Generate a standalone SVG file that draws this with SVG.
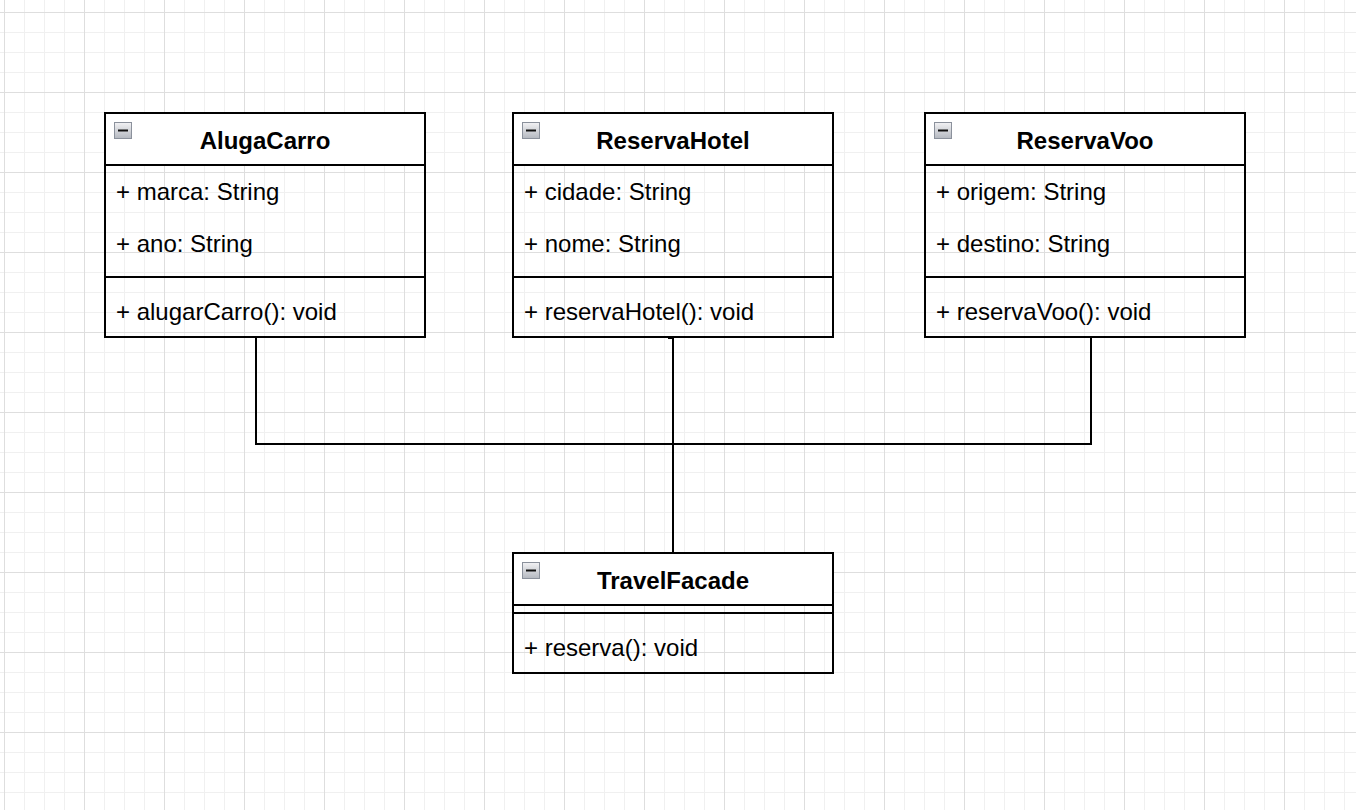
<svg xmlns="http://www.w3.org/2000/svg" width="1356" height="810" viewBox="0 0 1356 810">
  <style>
    .box { fill: none; stroke: #000; stroke-width: 2; }
    .hdr { fill: #fff; stroke: #000; stroke-width: 2; }
    .sep { stroke: #000; stroke-width: 2; }
    .title { font-family: "Liberation Sans", Arial, Helvetica, sans-serif; font-size: 24px; font-weight: bold; fill: #000; text-anchor: middle; }
    .item { font-family: "Liberation Sans", Arial, Helvetica, sans-serif; font-size: 24px; fill: #000; }
    .icon { fill: url(#iconGrad); stroke: #8b919c; stroke-width: 1; }
    .minus { stroke: #111; stroke-width: 2; }
    .edge { fill: none; stroke: #000; stroke-width: 2; }
  </style>
  <defs>
    <pattern id="minor" x="4" y="12" width="20" height="20" patternUnits="userSpaceOnUse">
      <path d="M0.5 0 V20 M0 0.5 H20" stroke="#f0f0f0" stroke-width="1" fill="none"/>
    </pattern>
    <pattern id="major" x="4" y="12" width="80" height="80" patternUnits="userSpaceOnUse">
      <path d="M0.5 0 V80 M0 0.5 H80" stroke="#dedede" stroke-width="1" fill="none"/>
    </pattern>
    <linearGradient id="iconGrad" x1="0" y1="0" x2="0" y2="1">
      <stop offset="0" stop-color="#f2f2f4"/>
      <stop offset="1" stop-color="#b4b8c0"/>
    </linearGradient>
  </defs>

  <rect width="1356" height="810" fill="#fff"/>
  <rect width="1356" height="810" fill="url(#minor)"/>
  <rect width="1356" height="810" fill="url(#major)"/>

  <g id="connectors">
    <path class="edge" d="M256 337 V444 H673 V553"/>
    <path class="edge" d="M1091 337 V444 H673 V553"/>
    <path class="edge" d="M673 337 V553"/>
    <path class="edge" d="M668 338 H674"/>
  </g>

  <g id="AlugaCarro">
    <rect class="hdr" x="105" y="113" width="320" height="52"/>
    <rect class="box" x="105" y="113" width="320" height="224"/>
    <line class="sep" x1="105" y1="277" x2="425" y2="277"/>
    <rect class="icon" x="114.5" y="122.5" width="17" height="16"/>
    <line class="minus" x1="118" y1="130.5" x2="128" y2="130.5"/>
    <text class="title" x="265" y="149">AlugaCarro</text>
    <text class="item" x="116" y="200">+ marca: String</text>
    <text class="item" x="116" y="252">+ ano: String</text>
    <text class="item" x="116" y="320">+ alugarCarro(): void</text>
  </g>

  <g id="ReservaHotel">
    <rect class="hdr" x="513" y="113" width="320" height="52"/>
    <rect class="box" x="513" y="113" width="320" height="224"/>
    <line class="sep" x1="513" y1="277" x2="833" y2="277"/>
    <rect class="icon" x="522.5" y="122.5" width="17" height="16"/>
    <line class="minus" x1="526" y1="130.5" x2="536" y2="130.5"/>
    <text class="title" x="673" y="149">ReservaHotel</text>
    <text class="item" x="524" y="200">+ cidade: String</text>
    <text class="item" x="524" y="252">+ nome: String</text>
    <text class="item" x="524" y="320">+ reservaHotel(): void</text>
  </g>

  <g id="ReservaVoo">
    <rect class="hdr" x="925" y="113" width="320" height="52"/>
    <rect class="box" x="925" y="113" width="320" height="224"/>
    <line class="sep" x1="925" y1="277" x2="1245" y2="277"/>
    <rect class="icon" x="934.5" y="122.5" width="17" height="16"/>
    <line class="minus" x1="938" y1="130.5" x2="948" y2="130.5"/>
    <text class="title" x="1085" y="149">ReservaVoo</text>
    <text class="item" x="936" y="200">+ origem: String</text>
    <text class="item" x="936" y="252">+ destino: String</text>
    <text class="item" x="936" y="320">+ reservaVoo(): void</text>
  </g>

  <g id="TravelFacade">
    <rect class="hdr" x="513" y="553" width="320" height="52"/>
    <rect class="box" x="513" y="553" width="320" height="120"/>
    <line class="sep" x1="513" y1="613" x2="833" y2="613"/>
    <rect class="icon" x="522.5" y="562.5" width="17" height="16"/>
    <line class="minus" x1="526" y1="570.5" x2="536" y2="570.5"/>
    <text class="title" x="673" y="589">TravelFacade</text>
    <text class="item" x="524" y="656">+ reserva(): void</text>
  </g>
</svg>
